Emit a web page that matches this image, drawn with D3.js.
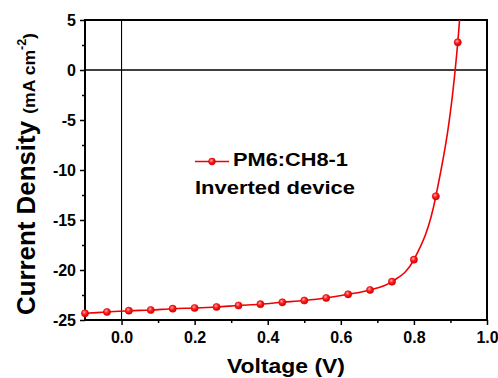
<!DOCTYPE html>
<html>
<head>
<meta charset="utf-8">
<script src="https://cdn.jsdelivr.net/npm/d3@7"></script>
<style>
  html, body { margin: 0; padding: 0; background: #fff; }
  svg { display: block; font-family: Arial, "Liberation Sans", Helvetica, sans-serif; }
</style>
</head>
<body>
<svg id="chart" width="498" height="378"></svg>
<script>
// ---- data ----
const voltage = [-0.1, -0.04, 0.02, 0.08, 0.14, 0.20, 0.26, 0.32, 0.38, 0.44, 0.50, 0.56, 0.62, 0.68, 0.74, 0.80, 0.86, 0.92];
const currentDensity = [-24.33, -24.2, -24.07, -24.0, -23.87, -23.8, -23.7, -23.55, -23.42, -23.23, -23.05, -22.8, -22.43, -22.0, -21.17, -18.97, -12.63, 2.77];
// continuation of the fitted curve beyond the last marker (goes off the top of the frame)
const curveTailV = [0.98];
const curveTailJ = [38];
const xTickValues = [0.0, 0.2, 0.4, 0.6, 0.8, 1.0];
const xTickLabels = ["0.0", "0.2", "0.4", "0.6", "0.8", "1.0"];
const xMinorTicks = [0.1, 0.3, 0.5, 0.7, 0.9];
const yTickValues = [5, 0, -5, -10, -15, -20, -25];
const yTickLabels = ["5", "0", "-5", "-10", "-15", "-20", "-25"];
const yMinorTicks = [2.5, -2.5, -7.5, -12.5, -17.5, -22.5];
const seriesName = "PM6:CH8-1";
const subtitle = "Inverted device";

// ---- layout ----
const svg = d3.select("#chart");
const L = 85, R = 487, T = 20, B = 320;
const x = d3.scaleLinear().domain([-0.1, 1.0]).range([L, R]);
const y = d3.scaleLinear().domain([-25, 5]).range([B, T]);
const red = "#f00000";

const defs = svg.append("defs");
defs.append("clipPath").attr("id", "plotclip")
  .append("rect").attr("x", L).attr("y", T).attr("width", R - L).attr("height", B - T);
const grad = defs.append("radialGradient").attr("id", "ball")
  .attr("cx", "40%").attr("cy", "35%").attr("r", "65%");
grad.append("stop").attr("offset", "0%").attr("stop-color", "#ffb0b0");
grad.append("stop").attr("offset", "45%").attr("stop-color", "#ff2020");
grad.append("stop").attr("offset", "100%").attr("stop-color", "#d00000");

// zero lines
svg.append("line").attr("x1", L).attr("x2", R).attr("y1", y(0)).attr("y2", y(0))
  .attr("stroke", "#000").attr("stroke-width", 1.3);
svg.append("line").attr("x1", x(0)).attr("x2", x(0)).attr("y1", T).attr("y2", B)
  .attr("stroke", "#000").attr("stroke-width", 1.1);

// axes
const xAxis = d3.axisBottom(x).tickValues(xTickValues).tickSize(5).tickPadding(6)
  .tickFormat((d, i) => xTickLabels[i]);
const gx = svg.append("g").attr("transform", `translate(0,${B})`).call(xAxis);
const xMinor = d3.axisBottom(x).tickValues(xMinorTicks).tickSize(3).tickFormat("");
const gxm = svg.append("g").attr("transform", `translate(0,${B})`).call(xMinor);

const yAxis = d3.axisLeft(y).tickValues(yTickValues).tickSize(5).tickPadding(4)
  .tickFormat((d, i) => yTickLabels[i]);
const gy = svg.append("g").attr("transform", `translate(${L},0)`).call(yAxis);
const yMinor = d3.axisLeft(y).tickValues(yMinorTicks).tickSize(3).tickFormat("");
const gym = svg.append("g").attr("transform", `translate(${L},0)`).call(yMinor);

[gx, gxm, gy, gym].forEach(g => {
  g.select(".domain").remove();
  g.selectAll(".tick line").attr("stroke", "#000").attr("stroke-width", 1.5);
  g.selectAll(".tick text").attr("fill", "#000").attr("font-size", 16)
    .attr("font-weight", "bold").attr("font-family", "Arial, 'Liberation Sans', sans-serif");
});
gx.selectAll(".tick text").attr("dy", "0.75em");

// frame
svg.append("rect").attr("x", L).attr("y", T).attr("width", R - L).attr("height", B - T)
  .attr("fill", "none").attr("stroke", "#000").attr("stroke-width", 2);

// curve
const pts = voltage.map((v, i) => [v, currentDensity[i]]);
const curvePts = pts.concat(curveTailV.map((v, i) => [v, curveTailJ[i]]));
const line = d3.line().x(d => x(d[0])).y(d => y(d[1])).curve(d3.curveMonotoneX);
svg.append("path").datum(curvePts).attr("clip-path", "url(#plotclip)")
  .attr("d", line).attr("fill", "none").attr("stroke", red).attr("stroke-width", 1.6);
svg.append("g").selectAll("circle").data(pts).join("circle")
  .attr("cx", d => x(d[0])).attr("cy", d => y(d[1])).attr("r", 3.6)
  .attr("fill", "url(#ball)").attr("stroke", "#e00000").attr("stroke-width", 0.6);

// legend
const lg = svg.append("g");
lg.append("line").attr("x1", 195).attr("x2", 229).attr("y1", 161.5).attr("y2", 161.5)
  .attr("stroke", red).attr("stroke-width", 1.6);
lg.append("circle").attr("cx", 212).attr("cy", 161.5).attr("r", 3.4)
  .attr("fill", "url(#ball)").attr("stroke", "#e00000").attr("stroke-width", 0.6);
lg.append("text").attr("x", 233).attr("y", 165.5).attr("font-size", 18).attr("font-weight", "bold")
  .attr("textLength", 115).attr("lengthAdjust", "spacingAndGlyphs").text(seriesName);
lg.append("text").attr("x", 195).attr("y", 193.5).attr("font-size", 18).attr("font-weight", "bold")
  .attr("textLength", 160).attr("lengthAdjust", "spacingAndGlyphs").text(subtitle);

// axis titles
svg.append("text").attr("x", 286).attr("y", 373).attr("text-anchor", "middle")
  .attr("font-size", 21).attr("font-weight", "bold")
  .attr("textLength", 118).attr("lengthAdjust", "spacingAndGlyphs").text("Voltage (V)");

const yl = svg.append("text").attr("transform", "translate(35,174) rotate(-90)")
  .attr("text-anchor", "middle").attr("font-weight", "bold")
  .attr("textLength", 282).attr("lengthAdjust", "spacingAndGlyphs");
yl.append("tspan").attr("font-size", 25).text("Current Density ");
yl.append("tspan").attr("font-size", 17).text("(mA cm");
yl.append("tspan").attr("font-size", 12).attr("dy", -9).text("-2");
yl.append("tspan").attr("font-size", 17).attr("dy", 9).text(")");
</script>
</body>
</html>
